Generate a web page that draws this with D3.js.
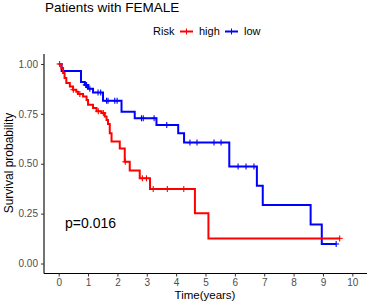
<!DOCTYPE html>
<html lang="en">
<head>
  <meta charset="UTF-8">
  <title>Patients with FEMALE</title>
  <script src="https://d3js.org/d3.v7.min.js"></script>
  <style>
    body { margin: 0; background: #fff; }
    text { font-family: "Liberation Sans", Arial, sans-serif; }
  </style>
</head>
<body>
  <div id="chart"></div>
  <script>
    // Kaplan-Meier steps (time in years, survival)
    const highTimes = [0, 0.09, 0.15, 0.20, 0.26, 0.38, 0.49, 0.60, 0.66, 0.83, 0.95, 1.00, 1.17, 1.29, 1.46, 1.57, 1.63, 1.68, 1.74, 1.80, 2.08, 2.25, 2.42, 2.76, 3.11, 4.64, 5.10, 9.57];
    const highSurv  = [1.0, 0.980, 0.955, 0.930, 0.905, 0.887, 0.871, 0.861, 0.850, 0.837, 0.820, 0.796, 0.779, 0.763, 0.754, 0.737, 0.719, 0.699, 0.653, 0.611, 0.577, 0.510, 0.466, 0.427, 0.373, 0.252, 0.126, 0.126];
    const highCensor = [0.03, 0.50, 0.72, 1.35, 1.52, 2.27, 2.85, 2.99, 3.22, 3.70, 4.26, 9.57];

    const lowTimes = [0, 0.10, 0.76, 0.89, 1.00, 1.17, 1.51, 2.14, 2.59, 3.33, 4.07, 4.27, 5.81, 6.75, 6.95, 8.58, 8.96, 9.45];
    const lowSurv  = [1.0, 0.965, 0.910, 0.895, 0.876, 0.857, 0.816, 0.760, 0.728, 0.694, 0.653, 0.606, 0.486, 0.390, 0.293, 0.195, 0.098, 0.098];
    const lowCensor = [0.92, 0.95, 1.06, 1.34, 1.43, 1.63, 1.68, 1.91, 1.99, 2.82, 2.88, 3.25, 3.68, 4.47, 4.71, 5.29, 5.53, 6.11, 6.38, 6.65, 9.45];

    const xTicks = [0, 1, 2, 3, 4, 5, 6, 7, 8, 9, 10];
    const yTicks = [0, 0.25, 0.5, 0.75, 1];

    const width = 370, height = 303;

    const svg = d3.select("#chart")
                  .append("svg")
                  .attr("width", width)
                  .attr("height", height);

    const x = d3.scaleLinear().domain([-0.5, 10.5]).range([44, 367]);
    const y = d3.scaleLinear().domain([-0.05, 1.05]).range([273.5, 54]);

    // Title
    svg.append("text")
       .attr("x", 45).attr("y", 12)
       .attr("font-size", 13.5)
       .attr("fill", "#000")
       .text("Patients with FEMALE");

    // Legend
    const legend = svg.append("g").attr("font-size", 11);
    legend.append("text").attr("x", 153).attr("y", 35).text("Risk");
    [["high", "#ff0000", 180], ["low", "#0000ff", 225]].forEach(([name, col, lx]) => {
      legend.append("line")
            .attr("x1", lx).attr("x2", lx + 13)
            .attr("y1", 31.5).attr("y2", 31.5)
            .attr("stroke", col).attr("stroke-width", 2);
      legend.append("line")
            .attr("x1", lx + 6.5).attr("x2", lx + 6.5)
            .attr("y1", 28.5).attr("y2", 34.5)
            .attr("stroke", col).attr("stroke-width", 1);
      legend.append("text").attr("x", lx + 19).attr("y", 35).text(name);
    });

    // Axes
    const xAxis = svg.append("g")
       .attr("transform", "translate(0,273.5)")
       .call(d3.axisBottom(x).tickValues(xTicks).tickSize(3).tickPadding(2).tickFormat(d3.format("d")));
    const yAxis = svg.append("g")
       .attr("transform", "translate(44,0)")
       .call(d3.axisLeft(y).tickValues(yTicks).tickSize(3).tickPadding(3).tickFormat(d3.format(".2f")));
    [xAxis, yAxis].forEach(a => {
      a.select(".domain").attr("stroke", "#000").attr("stroke-width", 1.1);
      a.selectAll(".tick line").attr("stroke", "#333");
      a.selectAll(".tick text")
       .attr("fill", "#4d4d4d")
       .attr("font-size", 10)
       .attr("font-family", "Liberation Sans, Arial, sans-serif");
    });
    xAxis.select(".domain").attr("d", "M44,0H367");
    yAxis.select(".domain").attr("d", "M0,54V273.5");

    svg.append("text")
       .attr("x", 205).attr("y", 299)
       .attr("text-anchor", "middle")
       .attr("font-size", 11.5)
       .text("Time(years)");
    svg.append("text")
       .attr("transform", "translate(13,163) rotate(-90)")
       .attr("text-anchor", "middle")
       .attr("font-size", 12)
       .text("Survival probability");

    // Curves
    const line = d3.line()
                   .x(d => x(d[0]))
                   .y(d => y(d[1]))
                   .curve(d3.curveStepAfter);

    const series = [
      { times: lowTimes, surv: lowSurv, censor: lowCensor, color: "#0000ff" },
      { times: highTimes, surv: highSurv, censor: highCensor, color: "#ff0000" }
    ];

    series.forEach(s => {
      const pts = s.times.map((t, i) => [t, s.surv[i]]);
      svg.append("path")
         .attr("d", line(pts))
         .attr("fill", "none")
         .attr("stroke", s.color)
         .attr("stroke-width", 2);

      const survAt = t => s.surv[Math.max(0, d3.bisectRight(s.times, t) - 1)];
      const marks = svg.append("g").attr("stroke", s.color).attr("stroke-width", 1.1);
      s.censor.forEach(t => {
        const cx = x(t), cy = y(survAt(t));
        marks.append("line").attr("x1", cx - 3).attr("x2", cx + 3).attr("y1", cy).attr("y2", cy);
        marks.append("line").attr("x1", cx).attr("x2", cx).attr("y1", cy - 3).attr("y2", cy + 3);
      });
    });

    // p-value
    svg.append("text")
       .attr("x", 65).attr("y", 228)
       .attr("font-size", 14)
       .text("p=0.016");
  </script>
</body>
</html>
